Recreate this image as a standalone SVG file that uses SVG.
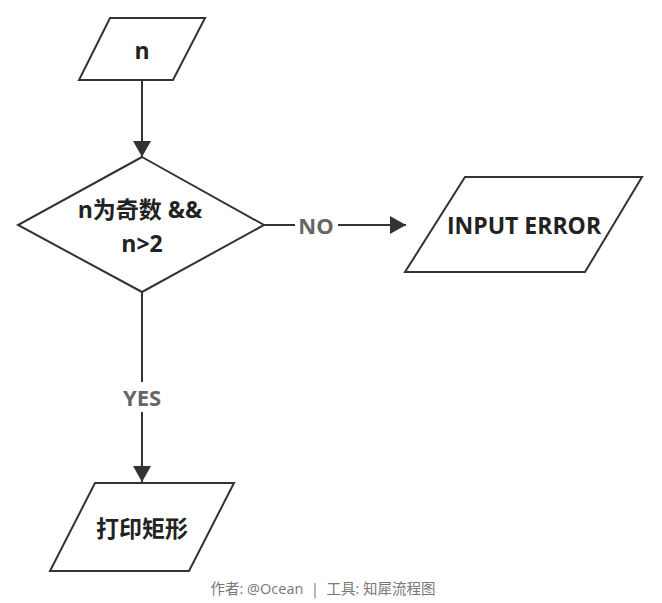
<svg xmlns="http://www.w3.org/2000/svg" width="662" height="603" viewBox="0 0 662 603">
<defs>
<style>
.shape{fill:#fff;stroke:#333;stroke-width:2;stroke-linejoin:miter}
.t{font-family:"Open Sans","Noto Sans CJK SC",sans-serif;font-weight:bold;font-size:23px;fill:#222;text-anchor:middle;dominant-baseline:central}
.lbl{font-family:"Open Sans","Noto Sans CJK SC",sans-serif;font-weight:bold;font-size:22px;fill:#666;text-anchor:middle;dominant-baseline:central}
.edge{fill:none;stroke:#333;stroke-width:2}
.foot{font-family:"Open Sans","Noto Sans CJK SC",sans-serif;font-size:14.5px;fill:#777;text-anchor:middle;dominant-baseline:central;white-space:pre}
</style>
<marker id="arr" viewBox="0 0 16 18" refX="16" refY="9" markerWidth="16" markerHeight="18" markerUnits="userSpaceOnUse" orient="auto">
<path d="M0,0 L16,9 L0,18 Z" fill="#333"/>
</marker>
</defs>
<rect width="662" height="603" fill="#fff"/>
<g id="connectors">
<path class="edge" d="M142,80 L142,157" marker-end="url(#arr)"/>
<path class="edge" d="M264,225 L295,225"/>
<path class="edge" d="M338,225 L406,225" marker-end="url(#arr)"/>
<path class="edge" d="M142,292 L142,382"/>
<path class="edge" d="M142,412 L142,482" marker-end="url(#arr)"/>
<text class="lbl" x="316" y="225">NO</text>
<text class="lbl" x="142" y="397">YES</text>
</g>
<g id="node-n">
<polygon class="shape" points="110,18 205,18 173,80 79,80"/>
<text class="t" x="142" y="50">n</text>
</g>
<g id="node-cond">
<polygon class="shape" points="142,157 264,225 142,292 18,225"/>
<text class="t" x="140" y="209">n为奇数 &amp;&amp;</text>
<text class="t" x="142" y="243">n&gt;2</text>
</g>
<g id="node-error">
<polygon class="shape" points="465,177 642,177 585,272 405,272"/>
<text class="t" x="524" y="225">INPUT ERROR</text>
</g>
<g id="node-print">
<polygon class="shape" points="95,483 234,483 189,571 50,571"/>
<text class="t" x="142" y="528">打印矩形</text>
</g>
<text class="foot" x="323" y="588" xml:space="preserve">作者: @Ocean  |  工具: 知犀流程图</text>
</svg>
